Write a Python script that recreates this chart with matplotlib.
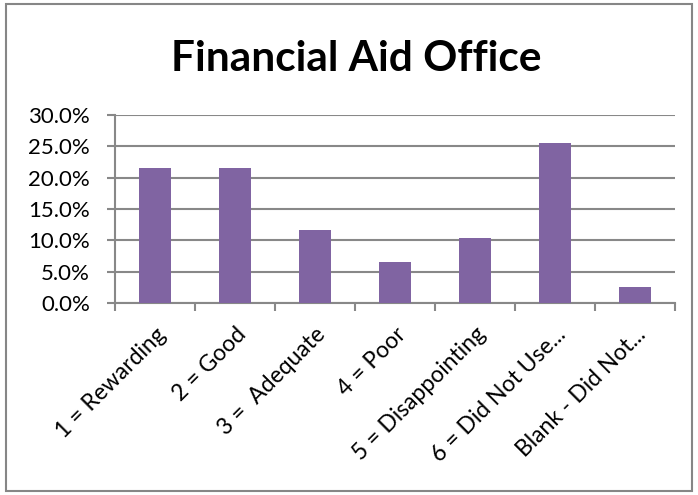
import matplotlib.pyplot as plt
from matplotlib.ticker import PercentFormatter, FixedLocator
from matplotlib.patches import Rectangle

plt.rcParams['font.family'] = ['Lato', 'DejaVu Sans']

# survey responses, share of respondents (%)
categories = [
    "1 = Rewarding",
    "2 = Good",
    "3 =  Adequate",
    "4 = Poor",
    "5 = Disappointing",
    "6 = Did Not Use...",
    "Blank - Did Not...",
]
shares = [21.5, 21.5, 11.7, 6.5, 10.4, 25.5, 2.6]

bar_color = "#8064A2"
grid_color = "#888888"

fig = plt.figure(figsize=(6.98, 4.95), dpi=100)
ax = fig.add_axes([0.165, 0.388, 0.802, 0.380])

x = list(range(len(categories)))
ax.bar(x, shares, width=0.4, color=bar_color, zorder=3)

ax.set_xlim(-0.5, len(categories) - 0.5)
ax.set_ylim(0, 30)
ax.set_yticks([0, 5, 10, 15, 20, 25, 30])
ax.yaxis.set_major_formatter(PercentFormatter(decimals=1))
ax.grid(axis="y", color=grid_color, linewidth=1.5, zorder=0)

# category labels centred, tick marks on category boundaries
ax.set_xticks(x)
ax.set_xticklabels(categories, rotation=45, ha="right", va="top",
                   rotation_mode="anchor", fontsize=16.5)
ax.tick_params(axis="x", which="major", length=0, pad=15)
ax.xaxis.set_minor_locator(FixedLocator([i - 0.5 for i in range(len(categories) + 1)]))
ax.tick_params(axis="x", which="minor", length=6, width=1.5, color=grid_color)
ax.tick_params(axis="y", length=6, width=1.5, color=grid_color, labelsize=16, pad=12)

for side in ["top", "right"]:
    ax.spines[side].set_visible(False)
for side in ["left", "bottom"]:
    ax.spines[side].set_color(grid_color)
    ax.spines[side].set_linewidth(1.5)

fig.text(0.511, 0.880, "Financial Aid Office", ha="center", va="center",
         fontsize=30.5, fontweight="bold")

# chart border
fig.patches.append(Rectangle((0.008, 0.008), 0.984, 0.984, transform=fig.transFigure,
                             fill=False, edgecolor="#868686", linewidth=1.5))

fig.savefig("out.png", dpi=100)
